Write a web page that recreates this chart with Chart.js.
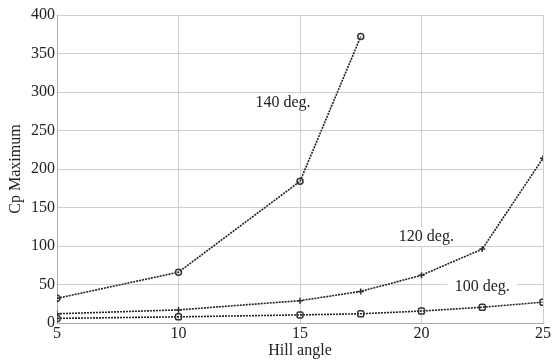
<!DOCTYPE html>
<html>
<head>
<meta charset="utf-8">
<script src="https://cdn.jsdelivr.net/npm/chart.js@4/dist/chart.umd.min.js"></script>
<style>
  html, body { margin: 0; padding: 0; background: #fff; }
  #wrap { width: 552px; height: 360px; }
</style>
</head>
<body>
<div id="wrap"><canvas id="myChart" width="552" height="360"></canvas></div>
<script>
// hill angle values of each curve
var angles_140 = [5, 10, 15, 17.5];
var cp_140 = [32, 66, 184, 372];
var angles_120 = [5, 10, 15, 17.5, 20, 22.5, 25];
var cp_120 = [12, 17, 29, 41, 62, 96, 214];
var angles_100 = [5, 10, 15, 17.5, 20, 22.5, 25];
var cp_100 = [6, 8, 10.5, 12, 15.5, 20.5, 27];

var x_ticks = [5, 10, 15, 20, 25];
var y_ticks = [0, 50, 100, 150, 200, 250, 300, 350, 400];

// curve labels [text, hill angle, cp]
var curve_labels = [["140 deg.", 14.3, 286], ["120 deg.", 20.2, 112], ["100 deg.", 22.5, 47]];

function pairs(xs, ys){
    var out = [];
    for(var i = 0; i < xs.length; i++){
        out.push({x: xs[i], y: ys[i]});
    }
    return out;
}

var serif = "'Liberation Serif', 'Times New Roman', serif";
Chart.defaults.font.family = serif;
Chart.defaults.color = "#222";

var labelPlugin = {
    id: "curveLabels",
    afterDatasetsDraw: function(chart){
        var ctx = chart.ctx;
        var xs = chart.scales.x, ys = chart.scales.y;
        ctx.save();
        ctx.font = "16px " + serif;
        ctx.textAlign = "center";
        ctx.textBaseline = "middle";
        for(var i = 0; i < curve_labels.length; i++){
            var px = xs.getPixelForValue(curve_labels[i][1]);
            var py = ys.getPixelForValue(curve_labels[i][2]);
            var w = ctx.measureText(curve_labels[i][0]).width;
            ctx.fillStyle = "#fff";
            ctx.fillRect(px - w / 2 - 7, py - 9, w + 14, 18);
            ctx.fillStyle = "#222";
            ctx.fillText(curve_labels[i][0], px, py);
        }
        ctx.restore();
    }
};

function line(data, style, radius){
    return {
        data: data,
        borderColor: "#222",
        backgroundColor: "#fff",
        borderWidth: 1.6,
        borderDash: [2, 1],
        pointStyle: style,
        pointRadius: radius,
        pointBorderColor: "#333",
        pointBackgroundColor: "rgba(255,255,255,0)",
        pointBorderWidth: 1.5,
        fill: false,
        tension: 0
    };
}

var canvas = document.getElementById("myChart").getContext("2d");
var chart = new Chart(canvas, {
    type: "scatter",
    data: {
        datasets: [
            line(pairs(angles_140, cp_140), "circle", 3),
            line(pairs(angles_120, cp_120), "cross", 3),
            line(pairs(angles_100, cp_100), "rectRounded", 3.5)
        ]
    },
    options: {
        responsive: false,
        animation: false,
        showLine: true,
        layout: { padding: { top: 15, right: 7, left: 0, bottom: 0 } },
        plugins: { legend: { display: false }, tooltip: { enabled: false } },
        scales: {
            x: {
                type: "linear",
                min: 5, max: 25,
                afterBuildTicks: function(axis){ axis.ticks = x_ticks.map(function(v){ return {value: v}; }); },
                afterFit: function(axis){ axis.height = 37; },
                grid: { color: "#cfcfcf", drawTicks: false },
                border: { color: "#aaa" },
                ticks: { font: { size: 16 }, padding: 1, color: "#222", maxRotation: 0 },
                title: { display: true, text: "Hill angle", font: { size: 16 }, padding: { top: -6, bottom: 0 }, color: "#222" }
            },
            y: {
                min: 0, max: 400,
                afterBuildTicks: function(axis){ axis.ticks = y_ticks.map(function(v){ return {value: v}; }); },
                afterFit: function(axis){ axis.width = 57; },
                grid: { color: "#cfcfcf", drawTicks: false },
                border: { color: "#aaa" },
                ticks: { font: { size: 16 }, padding: 2, color: "#222" },
                title: { display: true, text: "Cp Maximum", font: { size: 16 }, padding: { top: 6, bottom: 0 }, color: "#222" }
            }
        }
    },
    plugins: [labelPlugin]
});
</script>
</body>
</html>
